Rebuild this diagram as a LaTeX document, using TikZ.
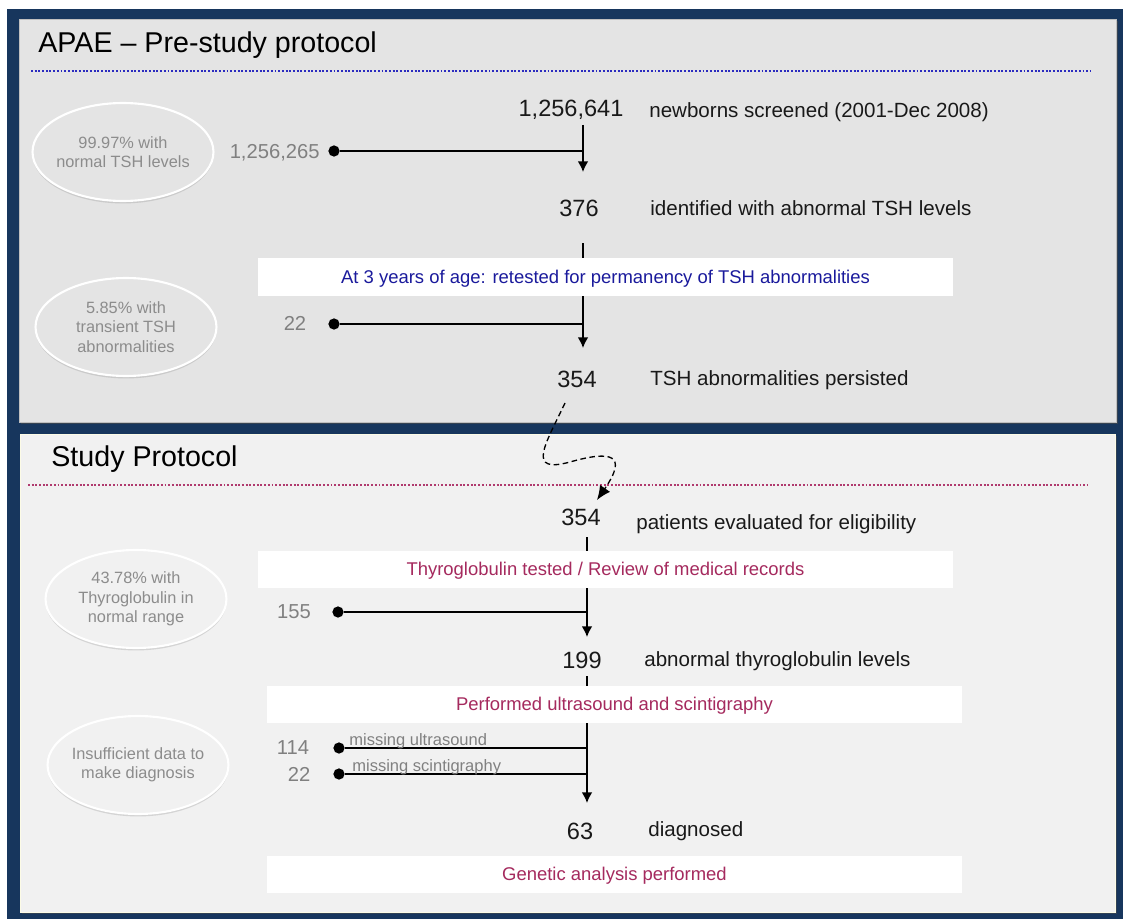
\documentclass[tikz,border=0pt]{standalone}
\usepackage{fontspec}
\setmainfont{Liberation Sans}
\usetikzlibrary{arrows.meta,shapes.geometric,shadows}

\definecolor{frameblue}{HTML}{17365D}
\definecolor{panelA}{HTML}{E4E4E4}
\definecolor{panelB}{HTML}{F1F1F1}
\definecolor{sidegray}{HTML}{808080}
\definecolor{ovalgray}{HTML}{8C8C8C}
\definecolor{stepblue}{HTML}{1A1A9C}
\definecolor{stepred}{HTML}{A52A5E}
\definecolor{dotblue}{HTML}{2B2BBF}
\definecolor{dotred}{HTML}{B03A6E}

\tikzset{
  title/.style={font=\fontsize{16.3}{19}\selectfont, inner sep=0pt, text height=.72em, text depth=0pt, anchor=west},
  count/.style={font=\fontsize{13.4}{16}\selectfont, inner sep=0pt, text height=.72em, text depth=0pt, text=black!90},
  what/.style={font=\fontsize{11.7}{14}\selectfont, inner sep=0pt, text height=.72em, text depth=0pt, anchor=west, text=black!90},
  sidecount/.style={font=\fontsize{11.5}{14}\selectfont, inner sep=0pt, text height=.72em, text depth=0pt, text=sidegray},
  missing/.style={font=\fontsize{9.4}{11}\selectfont, inner sep=0pt, text height=.72em, text depth=0pt, anchor=west, text=sidegray},
  oval/.style={ellipse, draw=white, line width=1.2pt, fill=#1, inner sep=0pt,
    minimum width=3.62cm, minimum height=1.96cm,
    drop shadow={shadow xshift=0pt, shadow yshift=-1.4pt, opacity=.25}},
  ovaltext/.style={font=\fontsize{9.3}{11}\selectfont, text=ovalgray, align=center, inner sep=0pt},
  stepbox/.style={fill=white, inner sep=0pt, minimum width=13.9cm, minimum height=0.75cm,
    text height=.72em, text depth=0pt, font=\fontsize{10.5}{12}\selectfont, text=#1},
  branchdot/.style={circle, fill=black, inner sep=0pt, minimum size=6.4pt},
  branch/.style={line width=0.85pt},
  flow/.style={line width=0.85pt, -{Latex[length=6pt,width=6pt]}},
  dotline/.style={line width=1.2pt, dash pattern=on 1.1pt off 1pt}
}

\begin{document}
\begin{tikzpicture}[x=0.02cm,y=-0.02cm]
\useasboundingbox (0,0) rectangle (1123,919);

% frame and the two panels
\fill[white] (0,0) rectangle (1123,919);
\fill[frameblue] (7,9) rectangle (1123,919);
\fill[black!70,opacity=.6] (21,21) rectangle (1118,424);
\filldraw[fill=panelA,draw=black!25] (19,19) rectangle (1116,422);
\fill[black!70,opacity=.5] (22,436) rectangle (1117,914);
\filldraw[fill=panelB,draw=black!15!yellow!10!white] (20,434) rectangle (1115,912);

% headings
\node[title] (pre) at (38,46) {APAE \textendash{} Pre-study protocol};
\draw[dotblue,dotline] (31,71) -- (1090,71);
\node[title] (study) at (51,460) {Study Protocol};
\draw[dotred,dotline] (28,485) -- (1087,485);

% main stems
\foreach \i/\x/\ya/\yb in {1/583/125/172, 2/583/243/348, 3/587/537/637, 4/587/676/803}{
  \coordinate (s\i) at (\x,\ya);
  \coordinate (e\i) at (\x,\yb);
  \draw[flow] (s\i) -- (e\i);
}

% side branches
\foreach \i/\dx/\jx/\y in {1/334/583/151, 2/334/583/324, 3/338/587/612, 4/339/587/748, 5/339/587/774}{
  \node[branchdot] (d\i) at (\dx,\y) {};
  \coordinate (j\i) at (\jx,\y);
  \draw[branch] (d\i) -- (j\i);
}

% step boxes
\node[stepbox=stepblue] (retest) at (605.5,277) {At 3 years of age: retested for permanency of TSH abnormalities};
\node[stepbox=stepred] (thyro) at (605.5,569.5) {Thyroglobulin tested / Review of medical records};
\node[stepbox=stepred] (ultra) at (614.5,704.5) {Performed ultrasound and scintigraphy};
\node[stepbox=stepred] (genetic) at (614.5,874.5) {Genetic analysis performed};

% counts on the main line
\node[count] (screened) at (571,110) {1,256,641};
\node[what] at (649,111) {newborns screened (2001-Dec 2008)};
\node[count] (abnormal) at (579,210) {376};
\node[what] at (650,209) {identified with abnormal TSH levels};
\node[count] (persist) at (577,381) {354};
\node[what] at (650,379) {TSH abnormalities persisted};
\node[count] (eligible) at (581,519) {354};
\node[what] at (636,523) {patients evaluated for eligibility};
\node[count] (abnthyro) at (582,662) {199};
\node[what] at (644,660) {abnormal thyroglobulin levels};
\node[count] (diag) at (580,833) {63};
\node[what] at (648,830) {diagnosed};

% counts on the side
\node[sidecount,anchor=east] (c1) at (320,152) {1,256,265};
\node[sidecount] (c2) at (295,324) {22};
\node[sidecount] (c3) at (294,612) {155};
\node[sidecount] (c4) at (293,748) {114};
\node[sidecount] (c5) at (299,775) {22};
\node[missing] (m1) at (349,739) {missing ultrasound};
\node[missing] (m2) at (352,765) {missing scintigraphy};

% ovals
\node[oval=panelA] (o1) at (123,152) {};
\node[ovaltext] at (o1) {99.97\% with\\normal TSH levels};
\node[oval=panelA] (o2) at (126,327) {};
\node[ovaltext] at (o2) {5.85\% with\\transient TSH\\abnormalities};
\node[oval=panelB] (o3) at (136,599) {};
\node[ovaltext] at (o3) {43.78\% with\\Thyroglobulin in\\normal range};
\node[oval=panelB] (o4) at (138,765) {};
\node[ovaltext] at (o4) {Insufficient data to\\make diagnosis};

% jump between the panels
\coordinate (jumpa) at (565,403);
\coordinate (jumpb) at (597,500);
\draw[line width=0.75pt, dash pattern=on 3.2pt off 2pt, -{Latex[length=8pt,width=7pt]}]
  (jumpa) .. controls (545,445) and (526,474) .. (570,462)
  .. controls (612,450) and (628,455) .. (jumpb);
\end{tikzpicture}
\end{document}
